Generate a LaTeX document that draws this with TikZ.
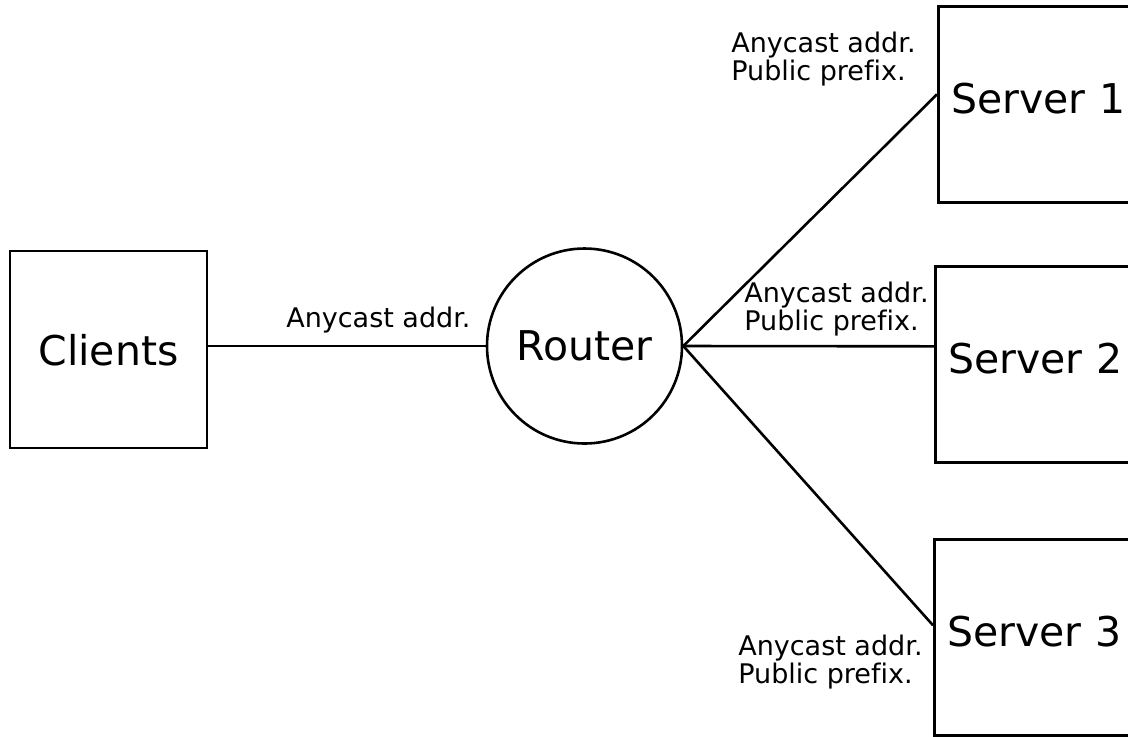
\documentclass[tikz,border=0pt]{standalone}
\usepackage{fontspec}
\setmainfont{DejaVu Sans}[Ligatures=NoCommon]

\begin{document}
\begin{tikzpicture}[x=0.5pt, y=-0.5pt, line width=1.3pt,
    bigfont/.style={font=\fontsize{20.5}{24}\selectfont},
    box/.style={draw, rectangle, minimum size=98.5pt, inner sep=0pt, bigfont},
    host/.style={draw, rectangle, anchor=north west, minimum width=120pt, minimum height=98pt,
                 text width=107pt, inner xsep=6.5pt, inner ysep=0pt, text depth=6pt, align=left, bigfont},
    hub/.style={draw, circle, minimum size=97.5pt, inner sep=0pt, bigfont},
    note/.style={anchor=north west, inner sep=0pt, align=left, font=\fontsize{13.5}{14}\selectfont}]
    \useasboundingbox (0,0) rectangle (1128,736);
    \clip (0,0) rectangle (1128,736);

    % Nodes {clients, router, srv1, srv2, srv3}
    \node [box, text depth=-4pt]    (clients)   at (108.5,349.5)    {Clients};
    \node [hub]     (router)    at (584.5,346)      {Router};
    \node [host]    (srv1)      at (937,5)          {Server 1};
    \node [host]    (srv2)      at (934,265)        {Server 2};
    \node [host]    (srv3)      at (933,538)        {Server 3};

    % Labels
    \node [note]    (lbl0)      at (285,306)        {Anycast addr.};
    \node [note]    (lbl1)      at (730,31)         {Anycast addr.\\Public prefix.};
    \node [note]    (lbl2)      at (743,281)        {Anycast addr.\\Public prefix.};
    \node [note]    (lbl3)      at (737,634)        {Anycast addr.\\Public prefix.};

    % Paths
    \draw (router.west -| clients.east) -- (router.west);
    \draw (router.east) -- ([yshift=5pt]srv1.west);
    \draw (router.east) -- ([yshift=9pt]srv2.west);
    \draw (router.east) -- ([yshift=6pt]srv3.west);

\end{tikzpicture}
\end{document}
